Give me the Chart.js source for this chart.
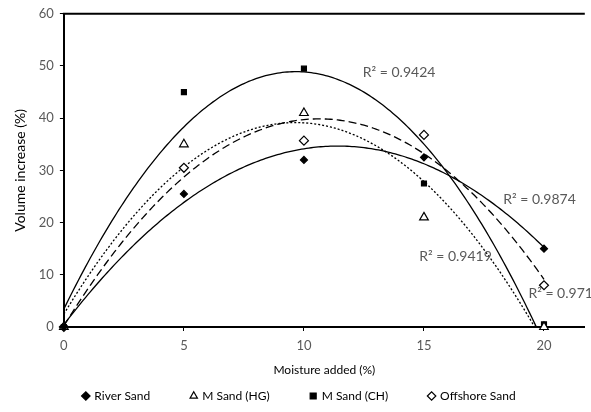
<!DOCTYPE html>
<html>
<head>
<meta charset="utf-8">
<script src="https://cdn.jsdelivr.net/npm/chart.js@4.4.1/dist/chart.umd.min.js"></script>
<style>
  html, body { margin: 0; padding: 0; background: #fff; }
  #wrap { width: 591px; height: 412px; }
</style>
</head>
<body>
<div id="wrap"><canvas id="mycanvas1"></canvas></div>
<script>
// data
var moisture = [0, 5, 10, 15, 20];
var riverSand = [0, 25.5, 32, 32.5, 15];
var mSandHG = [0, 35, 41, 21, 0];
var mSandCH = [0, 45, 49.5, 27.5, 0.5];
var offshoreSand = [0, 30.5, 35.7, 36.8, 8];
var seriesNames = ['River Sand', 'M Sand (HG)', 'M Sand (CH)', 'Offshore Sand'];
var r2Text = ['R\u00B2 = 0.9874', 'R\u00B2 = 0.9419', 'R\u00B2 = 0.9424', 'R\u00B2 = 0.9713'];
var yTicks = [0, 10, 20, 30, 40, 50, 60];

// where each R² note sits, in axis units
var r2Anchor = [[18.3, 24.5], [14.8, 13.6], [12.45, 48.7], [19.35, 6.5]];

var grey = '#595959';
var fontFam = 'Lato, "Open Sans", sans-serif';

// 2nd order least squares trendline (like the excel one)
function polyFit2(xs, ys) {
  var n = xs.length, s = [0, 0, 0, 0, 0], t = [0, 0, 0];
  for (var i = 0; i < n; i++) {
    var p = 1;
    for (var k = 0; k < 5; k++) { s[k] += p; if (k < 3) t[k] += p * ys[i]; p *= xs[i]; }
  }
  var m = [[s[0], s[1], s[2], t[0]], [s[1], s[2], s[3], t[1]], [s[2], s[3], s[4], t[2]]];
  for (var c = 0; c < 3; c++) {
    for (var r = c + 1; r < 3; r++) {
      var f = m[r][c] / m[c][c];
      for (var j = c; j < 4; j++) m[r][j] -= f * m[c][j];
    }
  }
  var res = [0, 0, 0];
  for (var r2 = 2; r2 >= 0; r2--) {
    var v = m[r2][3];
    for (var j2 = r2 + 1; j2 < 3; j2++) v -= m[r2][j2] * res[j2];
    res[r2] = v / m[r2][r2];
  }
  return res;
}

function trend(ys) {
  var cf = polyFit2(moisture, ys);
  var pts = [];
  for (var x = 0; x <= 20.001; x += 0.1) {
    pts.push({x: x, y: cf[0] + cf[1] * x + cf[2] * x * x});
  }
  return pts;
}

function pts(ys) {
  return moisture.map(function(x, i) { return {x: x, y: ys[i]}; });
}

var allSeries = [riverSand, mSandHG, mSandCH, offshoreSand];
var markStyle = [
  {pointStyle: 'rectRot', pointRadius: 3.5, pointBackgroundColor: '#000'},
  {pointStyle: 'triangle', pointRadius: 5, pointBackgroundColor: '#fff'},
  {pointStyle: 'rect', pointRadius: 3.5, pointBackgroundColor: '#000'},
  {pointStyle: 'rectRot', pointRadius: 4.5, pointBackgroundColor: '#fff'}
];
var dashes = [[], [2, 2], [], [8, 4]];

var datasets = [];
for (var i = 0; i < allSeries.length; i++) {
  datasets.push({
    label: seriesNames[i],
    data: pts(allSeries[i]),
    showLine: false,
    borderColor: '#000',
    backgroundColor: markStyle[i].pointBackgroundColor,
    pointStyle: markStyle[i].pointStyle,
    pointRadius: markStyle[i].pointRadius,
    pointBorderColor: '#000',
    pointBackgroundColor: markStyle[i].pointBackgroundColor,
    pointBorderWidth: 1.2,
    clip: false,
    order: 1
  });
}
for (var i2 = 0; i2 < allSeries.length; i2++) {
  datasets.push({
    label: 'trend' + i2,
    data: trend(allSeries[i2]),
    showLine: true,
    borderColor: '#000',
    borderWidth: 1.3,
    borderDash: dashes[i2],
    pointRadius: 0,
    fill: false,
    order: 2
  });
}

var extras = {
  id: 'extras',
  afterDraw: function(chart) {
    var ctx = chart.ctx, a = chart.chartArea;
    ctx.save();
    ctx.strokeStyle = '#000';
    ctx.lineWidth = 2;
    ctx.beginPath();
    ctx.moveTo(a.left - 1, a.top);
    ctx.lineTo(a.right, a.top);
    ctx.stroke();
    ctx.fillStyle = grey;
    ctx.font = '14px ' + fontFam;
    ctx.textBaseline = 'middle';
    for (var k = 0; k < r2Text.length; k++) {
      var px = chart.scales.x.getPixelForValue(r2Anchor[k][0]);
      var py = chart.scales.y.getPixelForValue(r2Anchor[k][1]);
      ctx.fillText(r2Text[k], px, py);
    }
    ctx.restore();
  }
};

var gap = '\u2003\u2003\u2003\u2002';

var ctx = document.getElementById('mycanvas1');
new Chart(ctx, {
  type: 'scatter',
  data: {datasets: datasets},
  plugins: [extras],
  options: {
    responsive: true,
    maintainAspectRatio: false,
    animation: false,
    layout: {padding: {top: 12, right: 0, left: 8, bottom: 0}},
    plugins: {
      tooltip: {enabled: false},
      legend: {
        position: 'bottom',
        labels: {
          usePointStyle: true,
          boxWidth: 5,
          boxHeight: 6,
          padding: 8,
          color: '#000',
          font: {family: fontFam, size: 12},
          filter: function(item) { return item.datasetIndex < 4; },
          generateLabels: function(chart) {
            var items = Chart.defaults.plugins.legend.labels.generateLabels(chart);
            items.forEach(function(it, k) { if (k < 3) it.text = it.text + gap; });
            return items;
          }
        }
      }
    },
    scales: {
      x: {
        type: 'linear',
        min: 0,
        max: 21.7,
        ticks: {stepSize: 5, includeBounds: false, color: grey, font: {family: fontFam, size: 13}, padding: 7},
        grid: {drawOnChartArea: false, drawTicks: true, tickLength: 4, color: '#000'},
        border: {color: '#000', width: 2},
        title: {display: true, text: 'Moisture added (%)', color: '#000', font: {family: fontFam, size: 12}, padding: {top: 2, bottom: 5}}
      },
      y: {
        min: 0,
        max: 60,
        afterBuildTicks: function(s) { s.ticks = yTicks.map(function(v) { return {value: v}; }); },
        ticks: {color: grey, font: {family: fontFam, size: 13}, padding: 6},
        grid: {drawOnChartArea: false, drawTicks: true, tickLength: 4, color: '#000'},
        border: {color: '#000', width: 2},
        title: {display: true, text: 'Volume increase (%)', color: '#000', font: {family: fontFam, size: 14}, padding: {bottom: 4}}
      }
    }
  }
});
</script>
</body>
</html>
